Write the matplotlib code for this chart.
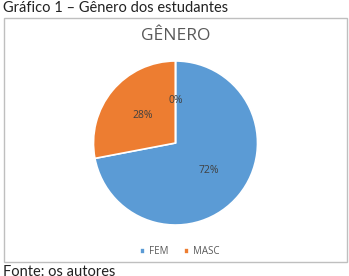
import matplotlib
matplotlib.use('Agg')
import matplotlib.pyplot as plt
from matplotlib.patches import Rectangle

# dados do gráfico
labels = ['FEM', 'MASC', '']
valores = [72, 28, 0]
cores = ['#5B9BD5', '#ED7D31', '#A5A5A5']

W, H = 349, 276
fig = plt.figure(figsize=(W / 100, H / 100), dpi=100, facecolor='white')

# moldura do gráfico
fig.add_artist(Rectangle((3.5 / W, 1 - 262 / H), 343 / W, (262 - 17.5) / H,
                         transform=fig.transFigure, fill=False,
                         edgecolor='#BFBFBF', linewidth=1))

# legenda e título externos
fig.text(3 / W, 1 - 1 / H, 'Gráfico 1 – Gênero dos estudantes', family='Lato',
         fontsize=10.5, color='#222222', va='top', ha='left')
fig.text(3 / W, 1 - 265 / H, 'Fonte: os autores', family='Lato',
         fontsize=10.5, color='#222222', va='top', ha='left')
fig.text(176 / W, 1 - 35.5 / H, 'GÊNERO', family='Open Sans',
         fontsize=12.5, color='#595959', va='center', ha='center')

# pizza
ax = fig.add_axes([93.5 / W, 1 - 225 / H, 164 / W, 164 / H])
wedges, texts, autotexts = ax.pie(valores, colors=cores, startangle=90,
                                  counterclock=False, autopct='%1.0f%%',
                                  pctdistance=0.52, radius=1,
                                  wedgeprops={'edgecolor': 'white', 'linewidth': 1.2},
                                  textprops={'fontsize': 7.5, 'color': '#404040',
                                             'family': 'Open Sans'})
ax.set_xlim(-1, 1)
ax.set_ylim(-1, 1)
ax.set_aspect('equal')
ax.axis('off')

# legenda só com as duas categorias
fig.legend(wedges[:2], labels[:2], loc='center', bbox_to_anchor=(180 / W, 1 - 252 / H),
           ncol=2, frameon=False, handlelength=0.5, handleheight=0.5,
           handletextpad=0.4, columnspacing=1.6,
           prop={'family': 'Open Sans', 'size': 7}, labelcolor='#595959')

fig.savefig('out.png', dpi=100)
